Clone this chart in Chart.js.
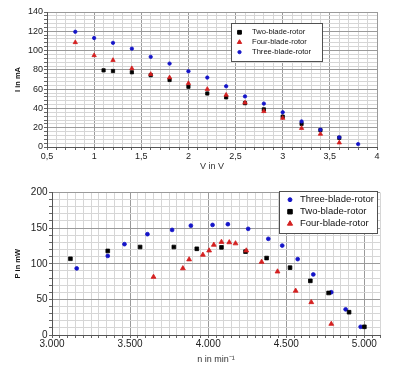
<!DOCTYPE html>
<html><head><meta charset="utf-8">
<script src="https://cdn.jsdelivr.net/npm/chart.js@4/dist/chart.umd.min.js"></script>
<style>
html,body{margin:0;padding:0;background:#fff;}
#w{position:relative;width:396px;height:377px;overflow:hidden;}
canvas{position:absolute;left:0;}
</style></head>
<body><div id="w"><canvas id="c1" width="396" height="180" style="top:0"></canvas><canvas id="c2" width="396" height="192" style="top:185px"></canvas></div>
<script>
// ---- Top chart data: I (mA) vs V (V)
const twoV   = [1.1,1.2,1.4,1.6,1.8,2.0,2.2,2.4,2.6,2.8,3.0,3.2,3.4,3.6];
const twoI   = [79.5,78.8,77.5,74.5,69.5,62.5,55.5,51.5,45.5,39,31.5,24,17.5,9.5];
const fourV  = [0.8,1.0,1.2,1.4,1.6,1.8,2.0,2.2,2.4,2.6,2.8,3.0,3.2,3.4,3.6];
const fourI  = [108.5,95,90,81.5,75.5,72,66,60,54,46,37,30,19.5,13.5,4.5];
const threeV = [0.8,1.0,1.2,1.4,1.6,1.8,2.0,2.2,2.4,2.6,2.8,3.0,3.2,3.4,3.6,3.8];
const threeI = [119.5,113,108,102,93.5,86.5,78.5,72,63,52.5,45,36,26.5,18,10,3];
// ---- Bottom chart data: P (mW) vs n (min^-1)
const threeN = [3158,3357,3464,3611,3769,3889,4028,4126,4256,4385,4474,4573,4673,4788,4880,4976];
const threeP = [93.5,111,127.5,141.5,147.5,153.5,154.5,155.5,149,135,125.5,106.5,85,60,36,11.5];
const twoN   = [3118,3357,3564,3780,3927,4085,4239,4374,4524,4654,4771,4902,5000];
const twoP   = [107,118,123.5,123.5,121,123,117,108,94.5,76,59,32,11.5];
const fourN  = [3650,3838,3878,3966,4006,4036,4085,4135,4175,4244,4342,4444,4560,4660,4788];
const fourP  = [81.5,93.5,106,112.5,118.5,126.5,130.5,130,128.5,118.5,102.5,89,62,46,15.5];
const seriesNames = ['Two-blade-rotor','Four-blade-rotor','Three-blade-rotor'];
const xTitle1 = 'V in V', yTitle1 = 'I in mA';
const xTitle2 = 'n in min\u207B\u00B9', yTitle2 = 'P in mW';

const FONT = "'Liberation Sans', Arial, sans-serif";
const BLUE = '#1414c8', RED = '#d42020', BLACK = '#000000';
const MAJOR = '#9a9a9a', MINOR = '#d6d6d6', AXIS = '#555555';

function pts(xs, ys){ return xs.map((x,i)=>({x, y: ys[i]})); }
function isMult(v, m){ return Math.abs(v/m - Math.round(v/m)) < 1e-6; }

function drawMarker(ctx, style, color, x, y, r){
  ctx.fillStyle = color; ctx.strokeStyle = color; ctx.lineWidth = 1;
  ctx.beginPath();
  if (style === 'rect'){ const s = r*0.75; ctx.rect(x-s, y-s, 2*s, 2*s); }
  else if (style === 'triangle'){ ctx.moveTo(x, y-r); ctx.lineTo(x+r*0.866, y+r*0.5); ctx.lineTo(x-r*0.866, y+r*0.5); ctx.closePath(); }
  else { ctx.arc(x, y, r*0.65, 0, Math.PI*2); }
  ctx.fill(); ctx.stroke();
}

const boxLegend = {
  id: 'boxLegend',
  afterDraw(chart, args, o){
    if (!o || !o.order) return;
    const ctx = chart.ctx;
    ctx.save();
    ctx.fillStyle = '#fff';
    ctx.fillRect(o.x, o.y, o.w, o.h);
    ctx.strokeStyle = '#505050'; ctx.lineWidth = 1;
    ctx.strokeRect(o.x+0.5, o.y+0.5, o.w, o.h);
    ctx.font = o.font;
    ctx.textBaseline = 'middle';
    o.order.forEach((idx, i) => {
      const ds = chart.data.datasets[idx];
      const y = o.y + o.first + i*o.gap;
      drawMarker(ctx, ds.pointStyle, ds.backgroundColor, o.mx, y, o.r);
      ctx.fillStyle = '#111';
      ctx.fillText(ds.label, o.tx, y);
    });
    ctx.restore();
  }
};

function ds(label, data, color, style, r, bw){
  return {label, data, backgroundColor: color, borderColor: color, pointStyle: style,
          pointRadius: r, pointBorderWidth: bw, showLine: false, pointHoverRadius: r};
}

function axisX(min, max, step, majorStep, fmt, title, tfont, tpadBottom, lblPad, height){
  return {
    type: 'linear', min, max,
    afterFit(s){ s.height = height; },
    border: {color: AXIS, width: 1},
    grid: {color: c => isMult(c.tick.value, majorStep) ? MAJOR : MINOR, tickColor: '#666', tickLength: 3, lineWidth: 1},
    ticks: {stepSize: step, maxTicksLimit: 1000, autoSkip: false, maxRotation: 0, padding: lblPad, color: '#222',
            font: {family: FONT, size: tfont},
            callback: v => isMult(v, majorStep) ? fmt(v) : ''},
    title: {display: true, text: title, color: '#333', font: {family: FONT, size: 9}, padding: {top: 0, bottom: tpadBottom}}
  };
}
function axisY(min, max, step, majorStep, title, tfont, width, lblPad){
  return {
    type: 'linear', min, max,
    afterFit(s){ s.width = width; },
    border: {color: AXIS, width: 1},
    grid: {color: c => isMult(c.tick.value, majorStep) ? MAJOR : MINOR, tickColor: '#666', tickLength: 3, lineWidth: 1},
    ticks: {stepSize: step, maxTicksLimit: 1000, autoSkip: false, padding: lblPad, color: '#222',
            font: {family: FONT, size: tfont},
            callback: v => isMult(v, majorStep) ? String(Math.round(v)) : ''},
    title: {display: true, text: title, color: '#111', font: {family: FONT, size: 7.5, weight: 'bold'}, padding: {top: 13.8, bottom: 0}}
  };
}

const common = {
  responsive: false, animation: false, devicePixelRatio: 1,
  plugins: {legend: {display: false}, tooltip: {enabled: false}}
};

new Chart(document.getElementById('c1'), {
  type: 'scatter',
  data: {datasets: [
    ds(seriesNames[2], pts(threeV, threeI), BLUE, 'circle', 1.7, 0.8),
    ds(seriesNames[1], pts(fourV, fourI), RED, 'triangle', 2.5, 0.8),
    ds(seriesNames[0], pts(twoV, twoI), BLACK, 'rect', 2.3, 0.8)
  ]},
  options: Object.assign({}, common, {
    layout: {padding: {top: 12, right: 19, left: 0, bottom: 0}},
    scales: {
      x: axisX(0.5, 4, 0.1, 0.5, v => String(Math.round(v*10)/10).replace('.', ','), xTitle1, 9, 7.6, 1, 33),
      y: axisY(0, 140, 4, 20, yTitle1, 9, 47, 1)
    },
    plugins: Object.assign({}, common.plugins, {
      boxLegend: {x: 231, y: 23, w: 91, h: 38, first: 9.3, gap: 9.9, mx: 239.5, tx: 252, r: 2.5,
                  font: "7.6px " + FONT, order: [2, 1, 0]}
    })
  }),
  plugins: [boxLegend]
});

new Chart(document.getElementById('c2'), {
  type: 'scatter',
  data: {datasets: [
    ds(seriesNames[1], pts(fourN, fourP), RED, 'triangle', 2.8, 0.8),
    ds(seriesNames[0], pts(twoN, twoP), BLACK, 'rect', 2.6, 0.8),
    ds(seriesNames[2], pts(threeN, threeP), BLUE, 'circle', 1.9, 0.8)
  ]},
  options: Object.assign({}, common, {
    layout: {padding: {top: 7, right: 16, left: 0, bottom: 0}},
    scales: {
      x: axisX(3000, 5100, 50, 500, v => (Math.round(v)/1000).toFixed(3), xTitle2, 10, 12, 0, 42),
      y: axisY(0, 200, 10, 50, yTitle2, 10, 52, 1.5)
    },
    plugins: Object.assign({}, common.plugins, {
      boxLegend: {x: 279, y: 6, w: 98, h: 42, first: 8.7, gap: 12, mx: 290, tx: 300, r: 3,
                  font: "9.5px " + FONT, order: [2, 1, 0]}
    })
  }),
  plugins: [boxLegend]
});
</script>
</body></html>
